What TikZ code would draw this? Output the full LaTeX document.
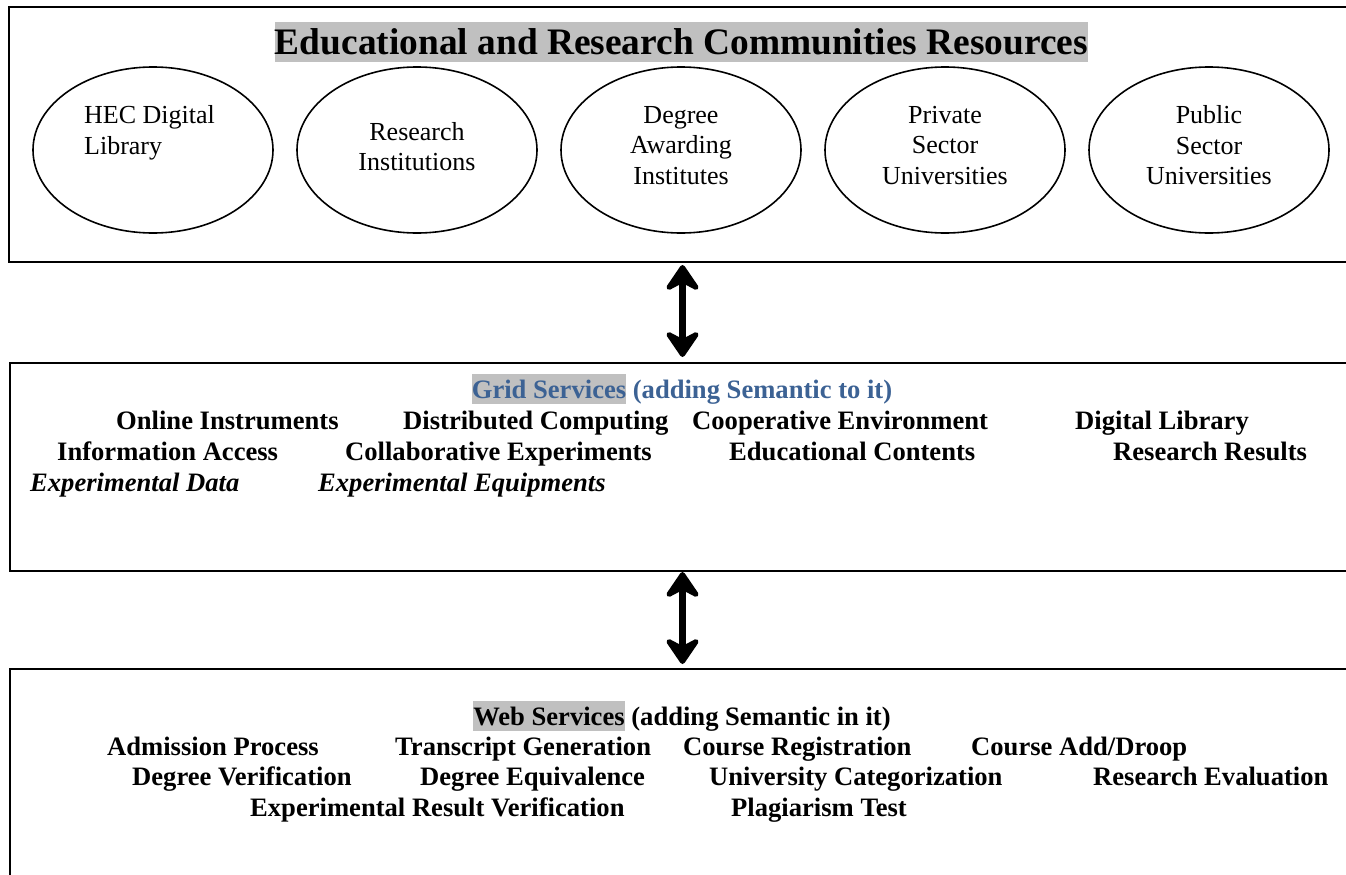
\documentclass[tikz,border=0pt]{standalone}
\usepackage{fontspec}
\setmainfont{Liberation Serif}
\usetikzlibrary{shapes.geometric,arrows.meta}
\definecolor{hlgrey}{RGB}{192,192,192}
\definecolor{gridblue}{RGB}{60,98,148}
\setlength{\fboxsep}{0pt}
\begin{document}
\begin{tikzpicture}[x=1pt,y=-1pt,
  panel/.style={draw,line width=1.8pt,rectangle,inner sep=0pt,outer sep=0pt,anchor=north west},
  res/.style={draw,ellipse,line width=1.6pt,minimum width=240pt,minimum height=166pt,inner sep=0pt},
  restext/.style={font=\fontsize{26}{30.5}\selectfont,align=center,inner sep=0pt},
  item/.style={font=\fontsize{26.6}{30}\selectfont\bfseries,anchor=base west,inner sep=0pt},
  itemit/.style={item,font=\fontsize{26.6}{30}\selectfont\bfseries\itshape},
  head/.style={font=\fontsize{26.6}{30}\selectfont\bfseries,anchor=base,inner sep=0pt},
  link/.style={line width=6.5pt,>={Stealth[round,length=31pt,width=42pt,inset=11pt]},<->},
]
\useasboundingbox (0,0) rectangle (1346,875);
\clip (0,0) rectangle (1346,875);

% panels
\node[panel,minimum width=1347pt,minimum height=255pt] (top) at (9,7) {};
\node[panel,minimum width=1345pt,minimum height=208pt] (mid) at (10,363) {};
\node[panel,minimum width=1345pt,minimum height=225pt] (bot) at (10,669) {};

% title
\node[font=\fontsize{37.4}{40}\selectfont\bfseries,inner sep=0pt,anchor=base] (title) at (681.5,55)
  {\colorbox{hlgrey}{\rule[-7pt]{0pt}{40pt}Educational and Research Communities Resources}};

% ellipses
\node[res] (e1) at (153,150) {};
\node[res] (e2) at (417,150) {};
\node[res] (e3) at (681,150) {};
\node[res] (e4) at (945,150) {};
\node[res] (e5) at (1209,150) {};
\node[restext,align=left] (e1t) at (149.5,133) {HEC Digital\\Library};
\node[restext] (e2t) at (417,146.5) {Research\\Institutions};
\node[restext] (e3t) at (681,145.5) {Degree\\Awarding\\Institutes};
\node[restext] (e4t) at (945,145.5) {Private\\Sector\\Universities};
\node[restext] (e5t) at (1209,145.5) {Public\\Sector\\Universities};

% grid services
\node[head,text=gridblue] (gridhead) at (682,398)
  {\colorbox{hlgrey}{\rule[-6pt]{0pt}{30pt}Grid Services} (adding Semantic to it)};
\node[item] (g1) at (116,429.5) {Online Instruments};
\node[item] (g2) at (403,429.5) {Distributed Computing};
\node[item] (g3) at (692,429.5) {Cooperative Environment};
\node[item] (g4) at (1075,429.5) {Digital Library};
\node[item] (g5) at (57,460.5) {Information Access};
\node[item] (g6) at (345,460.5) {Collaborative Experiments};
\node[item] (g7) at (729,460.5) {Educational Contents};
\node[item] (g8) at (1113,460.5) {Research Results};
\node[itemit] (g9) at (30,491) {Experimental Data};
\node[itemit] (g10) at (318,491) {Experimental Equipments};

% web services
\node[head] (webhead) at (682,725)
  {\colorbox{hlgrey}{\rule[-6pt]{0pt}{30pt}Web Services} (adding Semantic in it)};
\node[item] (w1) at (107,755.5) {Admission Process};
\node[item] (w2) at (395,755.5) {Transcript Generation};
\node[item] (w3) at (683,755.5) {Course Registration};
\node[item] (w4) at (971,755.5) {Course Add/Droop};
\node[item] (w5) at (132,785.5) {Degree Verification};
\node[item] (w6) at (420,785.5) {Degree Equivalence};
\node[item] (w7) at (709,785.5) {University Categorization};
\node[item] (w8) at (1093,785.5) {Research Evaluation};
\node[item] (w9) at (250,816.5) {Experimental Result Verification};
\node[item] (w10) at (731,816.5) {Plagiarism Test};

% connectors
\draw[link,shorten <=3pt,shorten >=6pt] (top.south) -- (mid.north);
\draw[link,shorten <=1pt,shorten >=5pt] (mid.south) -- (bot.north);
\end{tikzpicture}
\end{document}
